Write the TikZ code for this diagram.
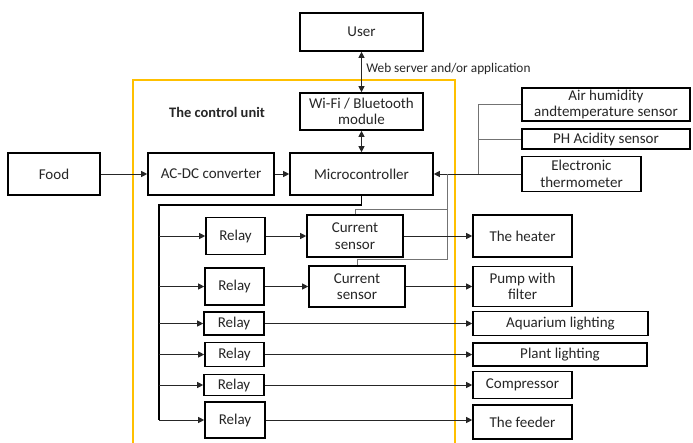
\documentclass[tikz,border=0pt]{standalone}
\usepackage{fontspec}
\setmainfont{Carlito}
\usetikzlibrary{arrows.meta}

\definecolor{unitgold}{RGB}{255,192,0}
\definecolor{inkgray}{RGB}{38,38,38}

\tikzset{
	box/.style={draw,line width=1.6pt,align=center,inner sep=1pt,text=inkgray,
		font=\fontsize{15}{16.5}\selectfont},
	conn/.style={line width=0.9pt,black!85},
	sens/.style={line width=0.9pt,black!55},
	bus/.style={line width=1.7pt},
	>={Triangle[length=6pt,width=6pt]}
}

\begin{document}
\begin{tikzpicture}[x=1pt,y=-1pt]
	\useasboundingbox (0,0) rectangle (693,442);
	\fill[white] (0,0) rectangle (693,442);

	% control unit frame, open at the bottom
	\draw[unitgold,line width=2pt] (133,450) -- (133,80) -- (455,80) -- (455,450);
	\node[font=\fontsize{14.5}{16}\selectfont\bfseries,text=inkgray] (unit) at (217,112) {The control unit};

	% top part
	\node[box,minimum width=123pt,minimum height=38pt] (user) at (361.5,32) {User};
	\node[box,minimum width=123pt,minimum height=37pt] (wifi) at (361.5,111.5) {Wi-Fi / Bluetooth\\module};
	\node[box,minimum width=92pt,minimum height=42pt] (food) at (54,174) {Food};
	\node[box,minimum width=126pt,minimum height=42pt] (acdc) at (211,174) {AC-DC converter};
	\node[box,minimum width=143pt,minimum height=42pt] (micro) at (361.5,174) {Microcontroller};

	% sensors
	\node[box,minimum width=168pt,minimum height=33pt] (air) at (606,104.5) {Air humidity\\andtemperature sensor};
	\node[box,minimum width=168pt,minimum height=20pt] (ph) at (606,139) {PH Acidity sensor};
	\node[box,minimum width=119pt,minimum height=35pt] (thermo) at (581.5,174) {Electronic\\thermometer};

	% relays and current sensors
	\node[box,minimum width=59pt,minimum height=37pt] (r1) at (235.5,236) {Relay};
	\node[box,minimum width=59pt,minimum height=37pt] (r2) at (234.5,286.5) {Relay};
	\node[box,minimum width=60pt,minimum height=23pt] (r3) at (234,323.5) {Relay};
	\node[box,minimum width=59pt,minimum height=24pt] (r4) at (234.5,354.5) {Relay};
	\node[box,minimum width=60pt,minimum height=21pt] (r5) at (234,385) {Relay};
	\node[box,minimum width=60pt,minimum height=36pt] (r6) at (235,420) {Relay};
	\node[box,minimum width=96pt,minimum height=42pt] (cs1) at (355,236) {Current\\sensor};
	\node[box,minimum width=96pt,minimum height=41pt] (cs2) at (357,286.5) {Current\\sensor};

	% loads
	\node[box,minimum width=99pt,minimum height=42pt] (heater) at (522.5,236) {The heater};
	\node[box,minimum width=99pt,minimum height=40pt] (pump) at (522.5,286.5) {Pump with\\filter};
	\node[box,minimum width=175pt,minimum height=24pt] (aqua) at (560.5,323.5) {Aquarium lighting};
	\node[box,minimum width=174pt,minimum height=23pt] (plant) at (560,354.5) {Plant lighting};
	\node[box,minimum width=99pt,minimum height=27pt] (comp) at (522.5,385) {Compressor};
	\node[box,minimum width=99pt,minimum height=34pt] (feeder) at (522.5,422) {The feeder};

	% links
	\draw[conn,<->] (user) -- node[right,font=\fontsize{13.3}{15}\selectfont,text=inkgray,xshift=1pt,yshift=3pt] (web) {Web server and/or application} (wifi);
	\draw[conn,<->] (wifi) -- (micro);
	\draw[conn,->] (food) -- (acdc);
	\draw[conn,->] (acdc) -- (micro);

	% sensor inputs
	\coordinate (sj) at (478,174);
	\draw[sens] (air.west) -| (sj);
	\draw[sens] (ph.west) -| (sj);
	\draw[conn,->] (thermo.west) -- (micro.east);

	% current feedback
	\coordinate (fb) at (447,174);
	\draw[sens] (cs1.north) -- ++(0,-5) -| (fb);
	\draw[sens] (cs2.north) -- ++(0,-6) -| (fb);

	% relay bus
	\coordinate (bus) at (159,205);
	\draw[bus] (micro.south) |- (bus) -- (bus |- r6);
	\foreach \r in {1,...,6}
		\draw[conn,->] (bus |- r\r) -- (r\r.west);

	\draw[conn,->] (r1) -- (cs1);
	\draw[conn,->] (r2) -- (cs2);
	\draw[conn,->] (cs1) -- (heater);
	\draw[conn,->] (cs2) -- (pump);
	\draw[conn,->] (r3) -- (aqua);
	\draw[conn,->] (r4) -- (plant);
	\draw[conn,->] (r5) -- (comp);
	\draw[conn,->] (r6.east) -- (r6.east -| feeder.west);
\end{tikzpicture}
\end{document}
